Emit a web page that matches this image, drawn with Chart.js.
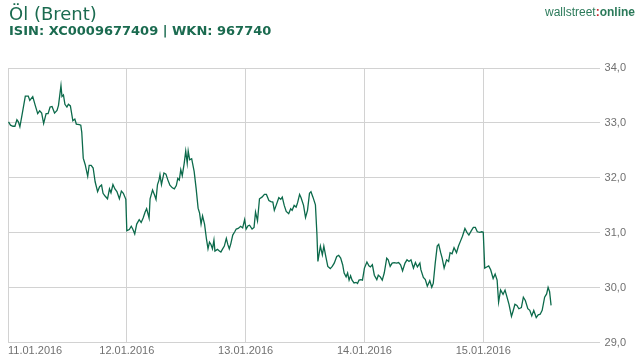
<!DOCTYPE html>
<html>
<head>
<meta charset="utf-8">
<script src="https://cdn.jsdelivr.net/npm/chart.js@4"></script>
<style>
  html, body { margin: 0; padding: 0; background: #fff; }
  #wrap { position: relative; width: 644px; height: 360px; }
  #chart { position: absolute; left: 0; top: 0; }
  .title { position: absolute; left: 9px; top: 4px; font: 18px/20px "DejaVu Sans", sans-serif; color: #1b6b50; white-space: nowrap; }
  .sub { position: absolute; left: 9px; top: 23px; font: bold 13px/16px "DejaVu Sans", sans-serif; color: #1b6b50; white-space: nowrap; }
  .logo { position: absolute; left: 545px; top: 5px; font: 12px/14px "Liberation Sans", Arial, sans-serif; color: #2b7a5a; white-space: nowrap; }
  .logo b { font-weight: bold; }
  .logo .c { color: #c8282e; font-weight: bold; }
</style>
</head>
<body>
<div id="wrap">
  <canvas id="chart" width="644" height="360"></canvas>
  <div class="title">Öl (Brent)</div>
  <div class="sub">ISIN: XC0009677409 | WKN: 967740</div>
  <div class="logo">wallstreet<span class="c">:</span><b>online</b></div>
</div>
<script>
// hours since 11.01.2016 00:00
const hours = [0.1,0.5,1.0,1.4,1.8,2.1,2.4,2.8,3.5,4.1,4.4,5.0,5.5,6.0,6.4,6.8,7.2,7.7,8.1,8.5,8.9,9.4,9.9,10.2,10.7,10.9,11.2,11.5,11.9,12.2,12.6,13.1,13.5,13.8,14.4,14.7,14.9,15.2,15.6,16.1,16.4,16.8,17.2,17.6,18.1,18.5,18.9,19.2,19.6,20.1,20.5,20.8,21.2,21.6,22.0,22.5,22.9,23.3,23.8,24.0,24.5,24.9,25.2,25.6,26.0,26.5,26.9,27.3,27.7,28.0,28.5,28.7,29.2,29.6,29.9,30.2,30.5,30.7,31.0,31.5,31.9,32.3,32.7,33.2,33.6,34.0,34.3,34.6,34.9,35.2,35.6,35.9,36.2,36.4,36.7,37.1,37.6,38.0,38.4,38.7,39.0,39.3,39.7,40.1,40.4,40.7,41.0,41.3,41.6,41.8,42.3,42.7,43.0,43.3,43.7,44.1,44.4,44.7,45.0,45.4,45.8,46.1,46.5,47.0,47.4,47.8,48.1,48.5,48.8,49.3,49.7,50.0,50.4,50.8,51.3,51.8,52.2,52.7,53.1,53.5,53.8,54.2,54.7,55.1,55.4,55.8,56.2,56.7,57.1,57.4,57.8,58.2,58.5,58.9,59.2,59.7,60.1,60.5,60.9,61.2,61.6,62.1,62.4,62.6,63.1,63.5,63.8,64.2,64.6,65.1,65.5,65.9,66.4,66.8,67.2,67.6,67.9,68.3,68.6,68.9,69.2,69.5,69.9,70.3,70.6,70.9,71.3,71.6,72.0,72.5,72.9,73.2,73.6,74.0,74.5,74.8,75.2,75.6,76.0,76.5,76.8,77.2,77.6,78.0,78.5,78.9,79.3,79.7,80.2,80.6,81.0,81.4,81.9,82.3,82.7,83.2,83.4,83.9,84.3,84.7,85.2,85.6,85.9,86.3,86.7,87.0,87.4,87.7,88.1,88.6,89.0,89.3,89.7,90.1,90.6,91.0,91.4,91.8,92.3,92.7,93.1,93.6,94.0,94.4,94.8,95.3,95.7,96.0,96.3,96.7,97.1,97.5,98.0,98.4,98.8,99.1,99.5,100.0,100.4,100.8,101.2,101.7,102.0,102.4,102.8,103.2,103.7,104.1,104.5,105.0,105.4,105.8,106.2,106.7,107.1,107.5,107.9,108.4,108.8,109.1,109.4,109.7];
const prices = [33.02,32.96,32.94,32.94,33.06,33.02,32.93,33.13,33.49,33.49,33.41,33.48,33.32,33.17,33.22,33.18,32.99,33.17,33.17,33.29,33.30,33.18,33.23,33.32,33.68,33.48,33.51,33.34,33.29,33.34,33.31,33.04,33.07,32.98,32.97,32.96,32.83,32.36,32.24,32.03,32.23,32.23,32.18,31.93,31.75,31.84,31.87,31.72,31.67,31.62,31.80,31.73,31.88,31.80,31.75,31.62,31.76,31.72,31.61,31.04,31.06,31.12,31.07,30.98,31.16,31.24,31.19,31.27,31.38,31.44,31.27,31.62,31.78,31.69,31.61,31.88,31.96,32.06,31.88,32.09,32.07,31.96,31.87,31.82,31.80,31.86,31.99,31.96,32.15,32.04,32.27,32.49,32.27,32.49,32.33,32.35,32.12,31.81,31.45,31.36,31.16,31.31,31.16,30.88,30.71,30.83,30.79,30.71,30.87,30.67,30.70,30.67,30.65,30.70,30.76,30.90,30.79,30.71,30.80,30.96,31.02,31.07,31.08,31.12,31.09,31.24,31.07,31.13,31.14,31.07,31.10,31.38,31.22,31.62,31.65,31.70,31.70,31.59,31.57,31.56,31.41,31.51,31.64,31.61,31.65,31.50,31.39,31.35,31.44,31.41,31.50,31.47,31.55,31.70,31.64,31.50,31.28,31.41,31.72,31.75,31.65,31.51,30.98,30.48,30.76,30.60,30.76,30.57,30.39,30.35,30.39,30.45,30.57,30.59,30.54,30.42,30.27,30.20,30.27,30.14,30.22,30.14,30.09,30.10,30.08,30.14,30.15,30.14,30.36,30.47,30.40,30.38,30.42,30.23,30.15,30.23,30.20,30.14,30.27,30.54,30.51,30.39,30.45,30.46,30.45,30.46,30.42,30.31,30.45,30.51,30.48,30.51,30.36,30.46,30.38,30.45,30.33,30.19,30.15,30.03,30.13,30.01,30.08,30.45,30.76,30.79,30.64,30.54,30.36,30.51,30.48,30.64,30.62,30.73,30.64,30.76,30.85,30.94,31.08,31.01,30.96,31.04,31.10,31.10,31.02,31.01,31.02,31.01,30.36,30.38,30.40,30.33,30.17,30.25,30.14,29.74,29.96,29.88,29.96,29.83,29.70,29.48,29.57,29.70,29.68,29.62,29.64,29.83,29.77,29.62,29.59,29.49,29.59,29.46,29.51,29.52,29.59,29.83,29.89,30.01,29.93,29.68];
const dayLabels = ['11.01.2016', '12.01.2016', '13.01.2016', '14.01.2016', '15.01.2016'];
const dayTicks = [0, 24, 48, 72, 96];
const xMax = 119.5;

const gridGray = '#d2d2d2';
const tickGray = '#707070';

const ctx = document.getElementById('chart');
const chart = new Chart(ctx, {
    type: 'line',
    data: {
        datasets: [{
            data: hours.map((h, i) => ({ x: h, y: prices[i] })),
            borderColor: '#0c6a4b',
            borderWidth: 1.3,
            pointRadius: 0,
            tension: 0,
            fill: false
        }]
    },
    options: {
        responsive: false,
        animation: false,
        layout: {
            padding: { top: 68, left: 8, right: 13, bottom: 0 }
        },
        plugins: {
            legend: { display: false },
            tooltip: { enabled: false }
        },
        scales: {
            x: {
                type: 'linear',
                min: 0,
                max: xMax,
                afterBuildTicks: (axis) => {
                    axis.ticks = dayTicks.concat([xMax]).map(v => ({ value: v }));
                },
                border: { display: false },
                grid: {
                    drawTicks: false,
                    color: (c) => c.tick && c.tick.value === xMax ? 'rgba(0,0,0,0)' : gridGray,
                    lineWidth: 1
                },
                ticks: {
                    align: 'inner',
                    padding: 2,
                    maxRotation: 0,
                    color: tickGray,
                    font: { family: '"Liberation Sans", Arial, sans-serif', size: 11 },
                    callback: (v) => {
                        const i = dayTicks.indexOf(v);
                        return i >= 0 ? dayLabels[i] : '';
                    }
                }
            },
            y: {
                position: 'right',
                min: 29,
                max: 34,
                border: { display: false },
                grid: { drawTicks: false, color: gridGray, lineWidth: 1 },
                ticks: {
                    stepSize: 1,
                    padding: 5,
                    color: tickGray,
                    font: { family: '"Liberation Sans", Arial, sans-serif', size: 11 },
                    callback: (v) => v.toFixed(1).replace('.', ',')
                }
            }
        }
    }
});
</script>
</body>
</html>
